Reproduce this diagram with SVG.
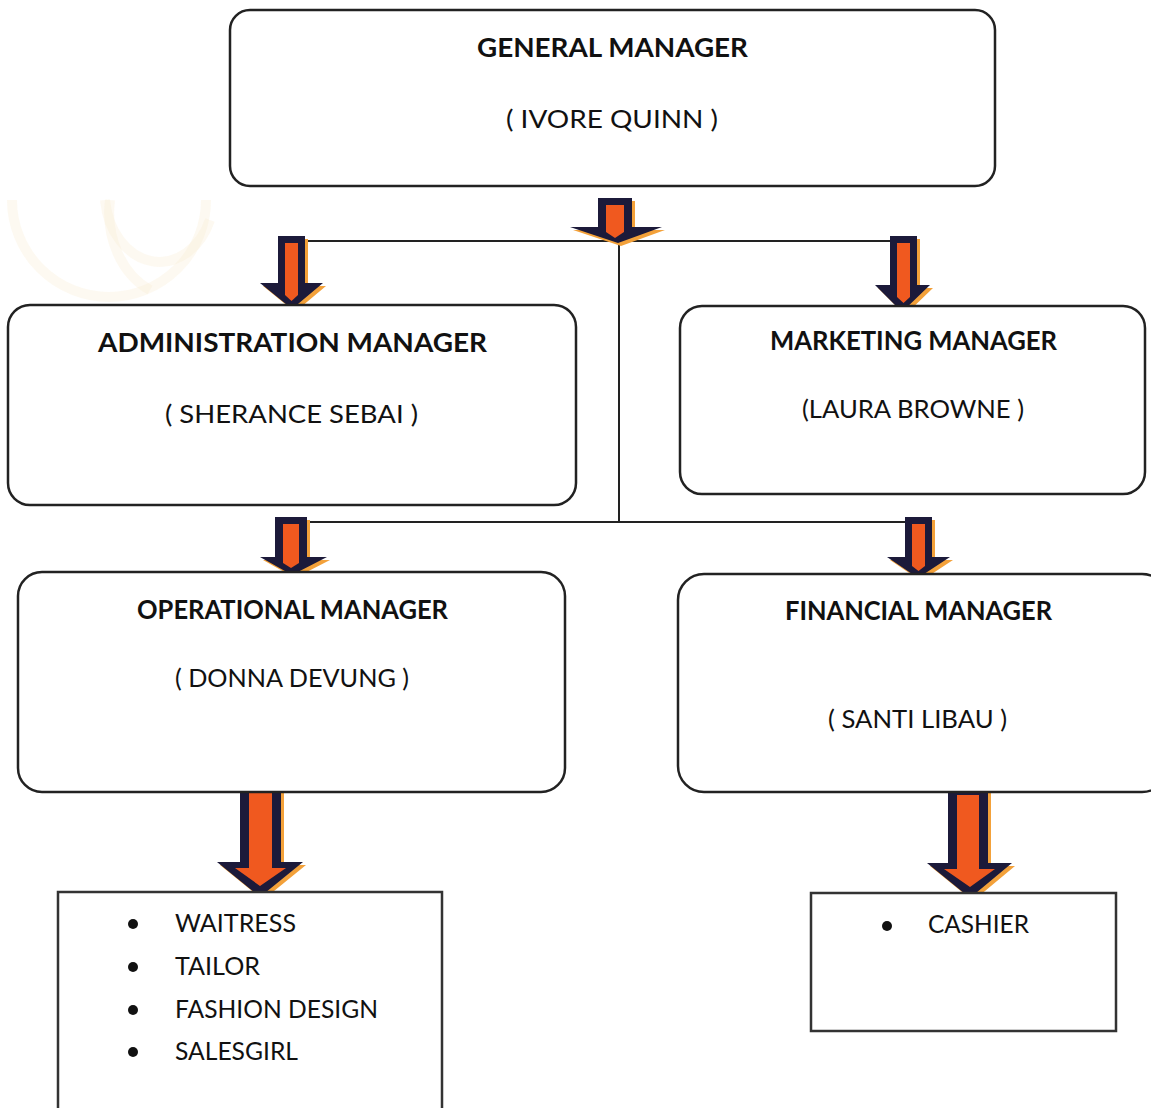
<svg xmlns="http://www.w3.org/2000/svg" width="1151" height="1108" viewBox="0 0 1151 1108">
<style>
.box{fill:#fff;stroke:#222;stroke-width:2.5}
.rect{fill:#fff;stroke:#333;stroke-width:2.5}
.line{stroke:#222;stroke-width:2;fill:none}
.ao{fill:#1c1a3a}
.ai{fill:#f0591f}
.as{fill:#f3a13a}
.t{font-family:Lato,"Open Sans","Liberation Sans",sans-serif;fill:#111;text-anchor:middle}
.b{font-weight:bold;font-size:26px}
.r{font-size:25px}
.li{font-family:Lato,"Open Sans","Liberation Sans",sans-serif;fill:#111;font-size:25px}
.wm{fill:none;stroke:#f8ead0;stroke-width:10;opacity:0.3}
</style>
<rect width="1151" height="1108" fill="#fff"/>
<g id="watermark">
<path class="wm" d="M12 200 A 97 97 0 0 0 206 200"/>
<path class="wm" d="M105 200 A 55 70 0 0 0 210 220"/>
<path class="wm" d="M110 200 A 70 85 0 0 0 150 290"/>
</g>
<g id="connectors">
<path class="line" d="M305 241 H890"/>
<path class="line" d="M619 243 V522"/>
<path class="line" d="M306 522 H905"/>
<g id="arrow-gm">
<path class="as" d="M601 201 H635 V230 H665 L621 246 L573 230 H601 Z"/>
<path class="ao" d="M598 198 H632 V227 H662 L618 243 L570 227 H598 Z"/>
<path class="ai" d="M606 205 H624 V232 L615 238 L606 232 Z"/>
</g>
<g id="arrow-admin">
<path class="as" d="M281 239 H308 V286 H326 L295 312 L263 286 H281 Z"/>
<path class="ao" d="M278 236 H305 V283 H323 L292 309 L260 283 H278 Z"/>
<path class="ai" d="M285 243 H298 V295 L291.5 301 L285 295 Z"/>
</g>
<g id="arrow-mkt">
<path class="as" d="M893 239 H920 V288 H933 L905 315 L878 288 H893 Z"/>
<path class="ao" d="M890 236 H917 V285 H930 L902 312 L875 285 H890 Z"/>
<path class="ai" d="M897 243 H910 V297 L903.5 303 L897 297 Z"/>
</g>
<g id="arrow-op">
<path class="as" d="M278 520 H310 V560 H330 L295 578 L263 560 H278 Z"/>
<path class="ao" d="M275 517 H307 V557 H327 L292 575 L260 557 H275 Z"/>
<path class="ai" d="M283 524 H299 V563 L291 568 L283 563 Z"/>
</g>
<g id="arrow-fin">
<path class="as" d="M908 520 H935 V560 H953 L921 581 L890 560 H908 Z"/>
<path class="ao" d="M905 517 H932 V557 H950 L918 578 L887 557 H905 Z"/>
<path class="ai" d="M912 524 H925 V566 L918.5 571 L912 566 Z"/>
</g>
<g id="arrow-op-big">
<path class="as" d="M243 788 H284 V865 H306 L263 900 L220 865 H243 Z"/>
<path class="ao" d="M240 785 H281 V862 H303 L260 897 L217 862 H240 Z"/>
<path class="ai" d="M249 793 H272 V868 H286 L260 886 L235 868 H249 Z"/>
</g>
<g id="arrow-fin-big">
<path class="as" d="M951 790 H991 V866 H1015 L973 901 L930 866 H951 Z"/>
<path class="ao" d="M948 787 H988 V863 H1012 L970 898 L927 863 H948 Z"/>
<path class="ai" d="M957 795 H979 V869 H995 L970 887 L944 869 H957 Z"/>
</g>
</g>
<g id="gm">
<rect class="box" x="230" y="10" width="765" height="176" rx="20"/>
<text class="t b" x="612.5" y="57" textLength="271" lengthAdjust="spacingAndGlyphs">GENERAL MANAGER</text>
<text class="t r" x="612" y="128" textLength="212" lengthAdjust="spacingAndGlyphs">( IVORE QUINN )</text>
</g>
<g id="admin">
<rect class="box" x="8" y="305" width="568" height="200" rx="22"/>
<text class="t b" x="292.5" y="352" textLength="389" lengthAdjust="spacingAndGlyphs">ADMINISTRATION MANAGER</text>
<text class="t r" x="291.5" y="423" textLength="253" lengthAdjust="spacingAndGlyphs">( SHERANCE SEBAI )</text>
</g>
<g id="marketing">
<rect class="box" x="680" y="306" width="465" height="188" rx="22"/>
<text class="t b" x="913.5" y="350" textLength="287" lengthAdjust="spacingAndGlyphs">MARKETING MANAGER</text>
<text class="t r" x="913" y="418" textLength="222" lengthAdjust="spacingAndGlyphs">(LAURA BROWNE )</text>
</g>
<g id="operational">
<rect class="box" x="18" y="572" width="547" height="220" rx="24"/>
<text class="t b" x="292.5" y="619" textLength="311" lengthAdjust="spacingAndGlyphs">OPERATIONAL MANAGER</text>
<text class="t r" x="292" y="687" textLength="234" lengthAdjust="spacingAndGlyphs">( DONNA DEVUNG )</text>
</g>
<g id="financial">
<rect class="box" x="678" y="574" width="490" height="218" rx="26"/>
<text class="t b" x="918.5" y="620" textLength="267" lengthAdjust="spacingAndGlyphs">FINANCIAL MANAGER</text>
<text class="t r" x="917.5" y="728" textLength="179" lengthAdjust="spacingAndGlyphs">( SANTI LIBAU )</text>
</g>
<g id="staff-op">
<path class="rect" d="M58 1110 V892 H442 V1110"/>
<circle cx="133" cy="924" r="5" fill="#111"/>
<circle cx="133" cy="967" r="5" fill="#111"/>
<circle cx="133" cy="1010" r="5" fill="#111"/>
<circle cx="133" cy="1052" r="5" fill="#111"/>
<text class="li" x="175" y="932" textLength="121" lengthAdjust="spacingAndGlyphs">WAITRESS</text>
<text class="li" x="175" y="975" textLength="85" lengthAdjust="spacingAndGlyphs">TAILOR</text>
<text class="li" x="175" y="1018" textLength="203" lengthAdjust="spacingAndGlyphs">FASHION DESIGN</text>
<text class="li" x="175" y="1060" textLength="123" lengthAdjust="spacingAndGlyphs">SALESGIRL</text>
</g>
<g id="staff-fin">
<rect class="rect" x="811" y="893" width="305" height="138"/>
<circle cx="887" cy="926" r="5" fill="#111"/>
<text class="li" x="928" y="933" textLength="101" lengthAdjust="spacingAndGlyphs">CASHIER</text>
</g>
</svg>
